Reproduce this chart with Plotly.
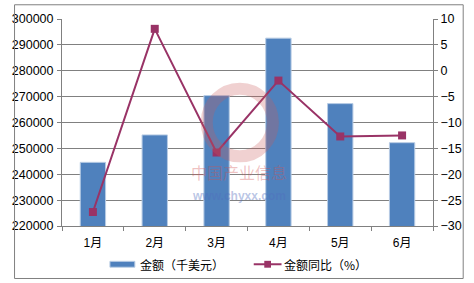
import plotly.graph_objects as go

months = ["1月", "2月", "3月", "4月", "5月", "6月"]
amount = [244600, 255200, 270400, 292600, 267300, 252200]
yoy = [-27.3, 8.1, -15.8, -1.9, -12.7, -12.5]
left_ticks = [220000, 230000, 240000, 250000, 260000, 270000, 280000, 290000, 300000]
right_ticks = [-30, -25, -20, -15, -10, -5, 0, 5, 10]
bar_name = "金额（千美元）"
line_name = "金额同比（%）"

W, H = 474, 283
L, R, T, B = 52, 35, 15, 57
pw, ph = W - L - R, H - T - B

def px(x):
    return (x - L) / pw

def py(y):
    return (H - B - y) / ph

FONT = "Liberation Sans, Arial, Noto Sans CJK SC, sans-serif"
BAR = "#4F81BD"
LINE = "#993366"
GRID = "#808080"

fig = go.Figure()
fig.add_trace(go.Bar(x=months, y=amount, name=bar_name, marker=dict(color=BAR, line=dict(color="#B8CCE4", width=1)),
                     width=0.41, yaxis="y"))
fig.add_trace(go.Scatter(x=months, y=yoy, name=line_name, mode="lines+markers",
                         line=dict(color=LINE, width=2), marker=dict(symbol="square", size=8, color=LINE),
                         yaxis="y2"))

fig.update_layout(
    width=W, height=H, margin=dict(l=L, r=R, t=T, b=B),
    paper_bgcolor="white", plot_bgcolor="white",
    showlegend=False, bargap=0.59,
    font=dict(family=FONT, size=12, color="#000"),
    xaxis=dict(showgrid=False, showline=True, linecolor=GRID, ticks="outside", ticklen=4,
               tickcolor=GRID, tickson="boundaries", tickfont=dict(size=12), ticklabelstandoff=6,
               layer="below traces"),
    yaxis=dict(range=[220000, 300000], tickvals=left_ticks, tickformat="d", showgrid=True, gridcolor=GRID,
               gridwidth=1, showline=True, linecolor=GRID, ticks="outside", ticklen=4, tickcolor=GRID,
               zeroline=False, tickfont=dict(size=12.5), ticklabelstandoff=1),
    yaxis2=dict(range=[-30, 10], tickvals=right_ticks, overlaying="y", side="right", showgrid=False,
                showline=True, linecolor=GRID, ticks="outside", ticklen=4, tickcolor=GRID, zeroline=False,
                tickfont=dict(size=12.5)),
)

# outer border
fig.add_shape(type="rect", xref="paper", yref="paper", x0=px(2.5), x1=px(470.5), y0=py(279.5), y1=py(0.5),
              line=dict(color="#808080", width=1), fillcolor="rgba(0,0,0,0)", layer="above")

# watermark
fig.add_shape(type="circle", xref="paper", yref="paper", x0=px(203), x1=px(272), y0=py(155), y1=py(86),
              line=dict(color="rgba(200,90,90,0.28)", width=12), fillcolor="rgba(0,0,0,0)", layer="above")
fig.add_annotation(text="中国产业信息", xref="paper", yref="paper", x=px(237), y=py(171), showarrow=False,
                   yanchor="middle", font=dict(size=16, color="rgba(210,80,80,0.35)", family="Noto Sans CJK SC"))
fig.add_annotation(text="<b>www.chyxx.com</b>", xref="paper", yref="paper", x=px(237), y=py(195), showarrow=False,
                   yanchor="middle", font=dict(size=12, color="rgba(80,110,190,0.4)", family=FONT))

# custom legend
ly = 265
fig.add_shape(type="rect", xref="paper", yref="paper", x0=px(102), x1=px(128), y0=py(268), y1=py(262),
              fillcolor=BAR, line=dict(color="#B8CCE4", width=1))
fig.add_annotation(text=bar_name, xref="paper", yref="paper", x=px(131), y=py(ly), xanchor="left",
                   yanchor="middle", showarrow=False, font=dict(size=12, family="Noto Sans CJK SC"))
fig.add_shape(type="line", xref="paper", yref="paper", x0=px(252), x1=px(281), y0=py(ly), y1=py(ly),
              line=dict(color=LINE, width=2))
fig.add_shape(type="rect", xref="paper", yref="paper", x0=px(263), x1=px(270), y0=py(ly + 3.5), y1=py(ly - 3.5),
              fillcolor=LINE, line=dict(color=LINE, width=0))
fig.add_annotation(text=line_name, xref="paper", yref="paper", x=px(282), y=py(ly), xanchor="left",
                   yanchor="middle", showarrow=False, font=dict(size=12, family="Noto Sans CJK SC"))

fig.write_html("out.html")
